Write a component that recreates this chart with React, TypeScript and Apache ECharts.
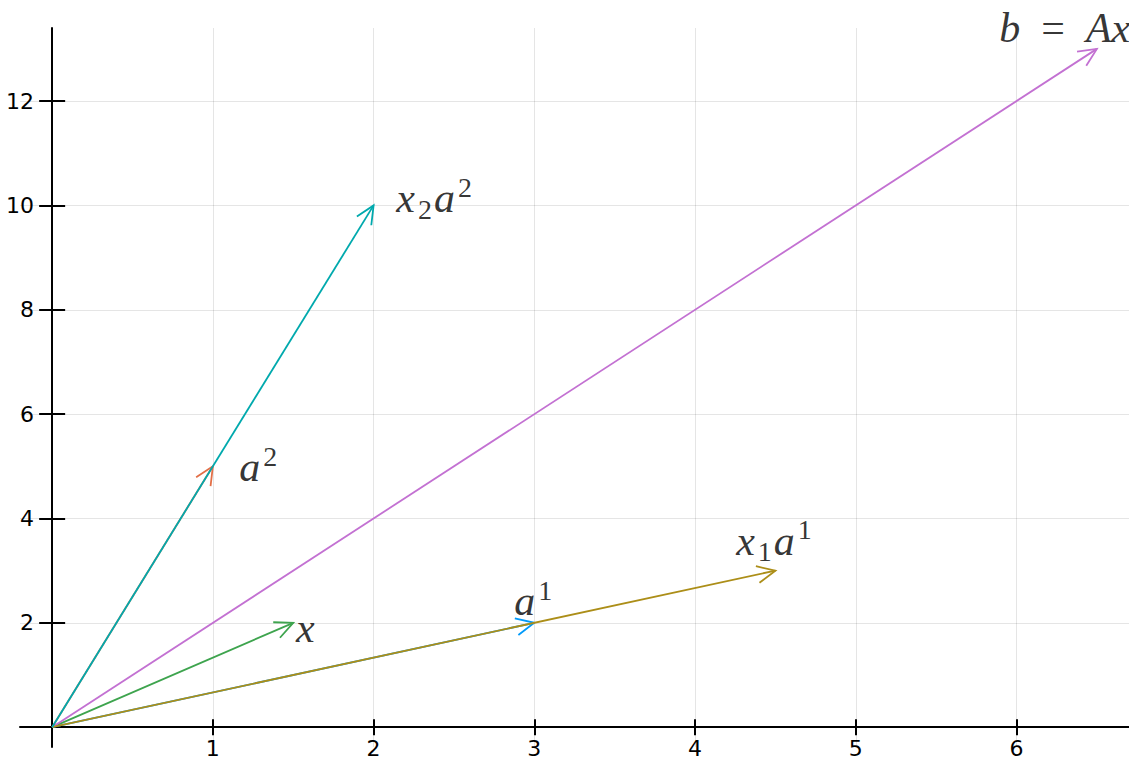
import React, { useEffect, useRef } from 'react';
import * as echarts from 'echarts';

// Vectors (drawn from the origin)
const vectorNames = ['a1', 'a2', 'x', 'b', 'x1a1', 'x2a2'];
const vectorX = [3, 1, 1.5, 6.5, 4.5, 2];
const vectorY = [2, 5, 2, 13, 3, 10];
const vectorColors = ['#009AFA', '#E36F47', '#3EA44E', '#C371D2', '#AC8E18', '#00A9AD'];

// Annotation labels (left edge / vertical middle, in data units)
const labelTexts = [
  '{m|a}{sup|1}',
  '{m|a}{sup|2}',
  '{m|x}',
  '{m|b}{r|  =  }{m|Ax}',
  '{m|x}{sub|1}{m|a}{sup|1}',
  '{m|x}{sub|2}{m|a}{sup|2}',
];
const labelX = [2.875, 1.164, 1.518, 5.893, 4.256, 2.141];
const labelY = [2.415, 4.983, 1.897, 13.4, 3.576, 10.14];

// Axes
const xTicks = [1, 2, 3, 4, 5, 6];
const yTicks = [2, 4, 6, 8, 10, 12];
const xRange = [-0.2, 6.7];
const yRange = [-0.38, 13.4];

const serif = '"Liberation Serif", "DejaVu Serif", serif';
const sans = '"DejaVu Sans", sans-serif';

export default function App() {
  const ref = useRef<HTMLDivElement>(null);

  useEffect(() => {
    if (!ref.current) return;
    const chart = echarts.init(ref.current, undefined, { renderer: 'svg' });

    const axisCommon = (dim: 'x' | 'y', primary: boolean) => {
      const ticks = dim === 'x' ? xTicks : yTicks;
      const range = dim === 'x' ? xRange : yRange;
      return {
        type: 'value',
        position: dim === 'x' ? 'bottom' : 'left',
        min: range[0],
        max: range[1],
        axisLine: {
          show: primary,
          onZero: true,
          onZeroAxisIndex: primary ? 0 : 1,
          lineStyle: { color: '#000', width: 2 },
        },
        axisTick: {
          show: true,
          inside: !primary,
          length: dim === 'x' ? 8 : 13,
          customValues: ticks,
          lineStyle: { color: '#000', width: 2 },
        },
        axisLabel: {
          show: primary,
          customValues: ticks,
          margin: dim === 'x' ? -9 : -14,
          fontSize: 22,
          lineHeight: 20,
          fontFamily: sans,
          color: '#000',
        },
        splitLine: {
          show: primary,
          lineStyle: { color: 'rgba(0,0,0,0.1)', width: 1 },
        },
      };
    };

    const option: any = {
      animation: false,
      backgroundColor: '#fff',
      grid: {
        left: 20,
        right: 0,
        top: 28,
        bottom: 12,
        containLabel: false,
        outerBoundsMode: 'none',
      },
      xAxis: [axisCommon('x', true), axisCommon('x', false)],
      yAxis: [axisCommon('y', true), axisCommon('y', false)],
      series: [
        {
          type: 'custom',
          name: 'vectors',
          xAxisIndex: 0,
          yAxisIndex: 0,
          clip: false,
          silent: true,
          data: vectorX.map((v, i) => ({ name: vectorNames[i], value: [v, vectorY[i]] })),
          encode: { x: 0, y: 1 },
          renderItem: (params: any, api: any) => {
            const idx = params.dataIndex;
            const p0 = api.coord([0, 0]);
            const p1 = api.coord([api.value(0), api.value(1)]);
            const ang = Math.atan2(p1[1] - p0[1], p1[0] - p0[0]);
            const L = 20;
            const th = (25 * Math.PI) / 180;
            const h1 = [p1[0] - L * Math.cos(ang - th), p1[1] - L * Math.sin(ang - th)];
            const h2 = [p1[0] - L * Math.cos(ang + th), p1[1] - L * Math.sin(ang + th)];
            const style = { stroke: vectorColors[idx], lineWidth: 1.8, fill: null };
            return {
              type: 'group',
              children: [
                { type: 'line', shape: { x1: p0[0], y1: p0[1], x2: p1[0], y2: p1[1] }, style },
                { type: 'polyline', shape: { points: [h1, p1, h2] }, style },
              ],
            };
          },
        },
        {
          type: 'scatter',
          name: 'labels',
          xAxisIndex: 0,
          yAxisIndex: 0,
          clip: false,
          silent: true,
          symbolSize: 0,
          data: labelX.map((v, i) => [v, labelY[i]]),
          label: {
            show: true,
            position: 'right',
            distance: 0,
            color: '#000',
            formatter: (p: any) => labelTexts[p.dataIndex],
            rich: {
              m: { fontFamily: serif, fontStyle: 'italic', fontSize: 42, lineHeight: 50, color: '#000' },
              r: { fontFamily: serif, fontStyle: 'normal', fontSize: 42, lineHeight: 50, color: '#000' },
              sup: {
                fontFamily: serif, fontStyle: 'normal', fontSize: 28, lineHeight: 35,
                verticalAlign: 'top', padding: [0, 0, 0, 3], color: '#000',
              },
              sub: {
                fontFamily: serif, fontStyle: 'normal', fontSize: 28, lineHeight: 22,
                verticalAlign: 'bottom', padding: [0, 2, 0, 3], color: '#000',
              },
            },
          },
        },
      ],
    };

    chart.setOption(option);
    return () => chart.dispose();
  }, []);

  return (
    <div
      ref={ref}
      style={{ position: 'fixed', left: 0, top: 0, width: 1129, height: 759, background: '#fff' }}
    />
  );
}
